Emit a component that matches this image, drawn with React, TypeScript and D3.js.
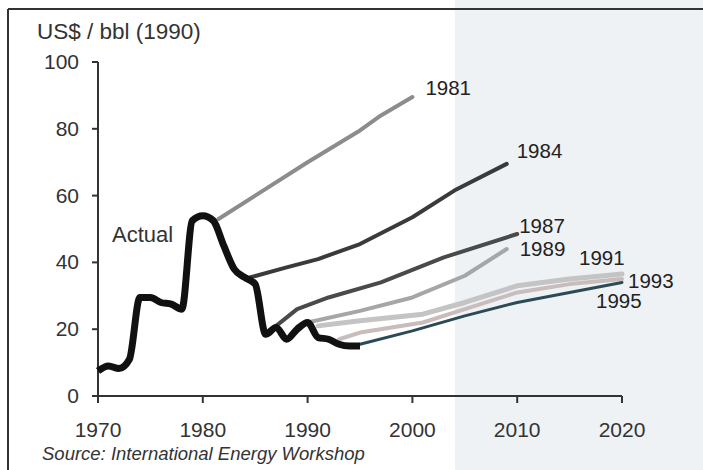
import * as d3 from 'd3'

const W = 703
const H = 470

// actual price history, US$/bbl (1990 dollars)
const actualYears = [1970, 1971, 1972, 1973, 1974, 1975, 1976, 1977, 1978, 1979, 1980, 1981, 1982, 1983, 1984, 1985, 1986, 1987, 1988, 1989, 1990, 1991, 1992, 1993, 1994, 1995]
const actualValues = [7.5, 9, 8.2, 11, 29.5, 29.5, 28, 27.5, 26, 52.5, 54, 52.5, 45, 38, 35.5, 33.5, 18.5, 20.5, 17, 20, 22, 17.5, 17, 15.5, 15, 15]

// projections by the year they were made
const forecastNames = ['1981', '1984', '1987', '1989', '1991', '1993', '1995']
const forecastYears = [
  [1981.5, 1985, 1990, 1995, 1997, 2000],
  [1984.5, 1988, 1991, 1995, 2000, 2004, 2009],
  [1987, 1989, 1992, 1997, 2003, 2010],
  [1990, 1995, 2000, 2005, 2009],
  [1991, 1995, 2001, 2005, 2010, 2015, 2020],
  [1993, 1995, 2001, 2005, 2010, 2015, 2020],
  [1995, 2000, 2005, 2010, 2015, 2020],
]
const forecastValues = [
  [53, 60, 70, 79.5, 84, 89.5],
  [35.5, 38.5, 41, 45.5, 53.5, 61.5, 69.5],
  [21, 26, 29.5, 34, 41.5, 48.5],
  [22, 25.5, 29.5, 36, 44],
  [21, 22.5, 24.5, 28, 33, 35, 36.5],
  [17, 19, 22, 26, 31, 33.5, 35],
  [15.5, 19.5, 24, 28, 31, 34],
]

const xTicks = [1970, 1980, 1990, 2000, 2010, 2020]
const yTicks = [0, 20, 40, 60, 80, 100]

const lineStyle = [
  { color: '#8c8c8c', width: 4 },
  { color: '#3a3a3a', width: 4 },
  { color: '#4a4a4a', width: 4 },
  { color: '#a6a6a6', width: 4 },
  { color: '#c4c4c4', width: 5 },
  { color: '#c9bcbc', width: 4 },
  { color: '#2c4a56', width: 3 },
]
// label offset from the end of each line
const labelOffset = [
  [13, -2], [10, -6], [2, -1], [13, 7], [-43, -9], [6, 9], [-26, 26],
]

export default function App() {
  const x = d3.scaleLinear().domain([1970, 2020]).range([98, 622])
  const y = d3.scaleLinear().domain([0, 100]).range([396, 62])
  const line = d3.line<[number, number]>().x((d) => x(d[0])).y((d) => y(d[1]))
  const smooth = d3.line<[number, number]>().x((d) => x(d[0])).y((d) => y(d[1])).curve(d3.curveMonotoneX)

  const actual = actualYears.map((yr, i) => [yr, actualValues[i]] as [number, number])
  const font = '"Liberation Sans", Arial, sans-serif'

  return (
    <svg width={W} height={H} style={{ position: 'absolute', left: 0, top: 0, background: '#fff' }} fontFamily={font}>
      <rect x={455} y={0} width={W - 455} height={H} fill="#eef2f5" />
      <line x1={8} x2={W} y1={9} y2={9} stroke="#333" strokeWidth={2} />
      <line x1={8} x2={8} y1={9} y2={H} stroke="#333" strokeWidth={2} />

      <text x={37} y={39} fontSize={22.5} fill="#333">US$ / bbl (1990)</text>

      {/* axes */}
      <line x1={x(1970)} x2={x(1970)} y1={y(100)} y2={y(0) + 7} stroke="#333" strokeWidth={2} />
      <line x1={x(1970) - 6} x2={x(2020)} y1={y(0)} y2={y(0)} stroke="#333" strokeWidth={2} />
      {yTicks.map((t) => (
        <g key={t}>
          <line x1={x(1970) - 6} x2={x(1970)} y1={y(t)} y2={y(t)} stroke="#333" strokeWidth={2} />
          <text x={79} y={y(t) + 7} fontSize={21} textAnchor="end" fill="#333">{t}</text>
        </g>
      ))}
      {xTicks.map((t) => (
        <g key={t}>
          <line x1={x(t)} x2={x(t)} y1={y(0)} y2={y(0) + 7} stroke="#333" strokeWidth={2} />
          <text x={x(t)} y={437} fontSize={21} textAnchor="middle" fill="#333">{t}</text>
        </g>
      ))}

      {/* forecasts */}
      {forecastNames.map((name, i) => {
        const pts = forecastYears[i].map((yr, j) => [yr, forecastValues[i][j]] as [number, number])
        const last = pts[pts.length - 1]
        return (
          <g key={name}>
            <path d={line(pts) ?? ''} fill="none" stroke={lineStyle[i].color} strokeWidth={lineStyle[i].width} strokeLinejoin="round" strokeLinecap="round" />
            <text x={x(last[0]) + labelOffset[i][0]} y={y(last[1]) + labelOffset[i][1]} fontSize={20.5} fill="#222">{name}</text>
          </g>
        )
      })}

      {/* actual */}
      <path d={smooth(actual) ?? ''} fill="none" stroke="#111" strokeWidth={7} strokeLinejoin="round" strokeLinecap="butt" />
      <text x={112} y={242} fontSize={22} fill="#333">Actual</text>

      <text x={42} y={460} fontSize={18.5} fontStyle="italic" fill="#333">Source: International Energy Workshop</text>
    </svg>
  )
}
